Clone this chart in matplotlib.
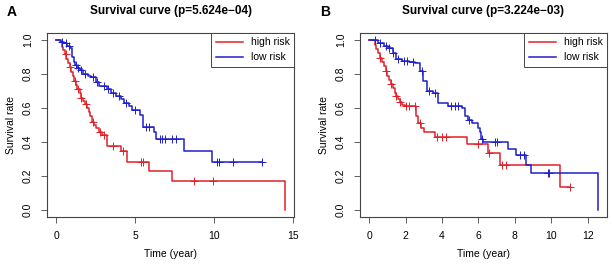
import numpy as np
import matplotlib
matplotlib.use("Agg")
import matplotlib.pyplot as plt

plt.rcParams["font.family"] = ["Liberation Sans", "DejaVu Sans"]

RED = "#e0202a"
BLUE = "#1f1fcc"

# panel A - step points (time, survival after the step)
a_high_t = [0, 0.25, 0.35, 0.45, 0.55, 0.65, 0.75, 0.85, 0.95, 1.05, 1.15, 1.25, 1.35, 1.5, 1.6,
            1.7, 1.82, 1.95, 2.05, 2.15, 2.25, 2.4, 2.55, 2.7, 2.9, 3.2, 4.1, 4.5, 5.85, 7.34, 14.47]
a_high_s = [1.0, 0.985, 0.96, 0.94, 0.915, 0.89, 0.865, 0.84, 0.81, 0.785, 0.76, 0.735, 0.71, 0.685, 0.66,
            0.64, 0.625, 0.60, 0.575, 0.55, 0.52, 0.50, 0.48, 0.46, 0.44, 0.378, 0.35, 0.285, 0.228, 0.17, 0.0]
a_high_end = 14.47
a_high_cens = [0.6, 0.9, 1.2, 1.4, 1.6, 1.9, 2.3, 2.8, 3.0, 3.6, 4.2, 5.35, 5.5, 8.7, 9.9]

a_low_t = [0, 0.3, 0.5, 0.7, 0.9, 1.0, 1.1, 1.2, 1.35, 1.5, 1.7, 2.0, 2.2, 2.5, 2.7, 3.2, 3.5, 3.8,
           4.1, 4.3, 4.6, 4.8, 5.3, 5.5, 6.2, 6.33, 8.1, 9.85]
a_low_s = [1.0, 0.99, 0.98, 0.965, 0.95, 0.9, 0.87, 0.85, 0.835, 0.82, 0.8, 0.79, 0.78, 0.75, 0.727, 0.71,
           0.69, 0.67, 0.65, 0.63, 0.61, 0.59, 0.56, 0.49, 0.456, 0.42, 0.35, 0.28]
a_low_end = 13.0
a_low_cens = [0.4, 0.6, 0.8, 1.25, 1.4, 1.6, 1.8, 2.3, 2.6, 3.0, 3.3, 3.6, 4.0, 4.4, 5.0, 5.7, 5.9,
              6.6, 6.7, 6.9, 7.3, 7.6, 10.2, 10.3, 11.2, 13.0]

# panel B
b_high_t = [0, 0.3, 0.4, 0.5, 0.6, 0.7, 0.8, 0.9, 1.0, 1.1, 1.2, 1.3, 1.4, 1.5, 1.6, 1.7, 1.8, 1.95,
            2.6, 2.7, 2.85, 3.0, 3.6, 5.35, 6.54, 7.18, 10.5]
b_high_s = [1.0, 0.97, 0.945, 0.92, 0.895, 0.87, 0.845, 0.815, 0.79, 0.765, 0.74, 0.715, 0.69, 0.67,
            0.65, 0.635, 0.62, 0.61, 0.55, 0.51, 0.48, 0.456, 0.427, 0.388, 0.335, 0.267, 0.139]
b_high_end = 11.05
b_high_cens = [0.6, 0.9, 1.2, 1.5, 1.7, 2.0, 2.2, 2.5, 2.8, 3.7, 4.0, 4.2, 6.0, 6.6, 7.3, 7.5, 11.05]

b_low_t = [0, 0.5, 0.8, 1.06, 1.3, 1.5, 1.79, 2.2, 2.52, 2.8, 2.98, 3.16, 3.52, 3.8, 4.35, 5.08, 5.26,
           5.45, 5.63, 5.99, 6.08, 6.17, 6.26, 7.64, 8.04, 8.64, 8.9, 12.56]
b_low_s = [1.0, 0.98, 0.965, 0.95, 0.92, 0.89, 0.873, 0.87, 0.864, 0.815, 0.756, 0.698, 0.688, 0.63,
           0.61, 0.60, 0.55, 0.53, 0.51, 0.48, 0.456, 0.417, 0.40, 0.362, 0.323, 0.267, 0.216, 0.0]
b_low_end = 12.56
b_low_cens = [0.3, 0.6, 0.9, 1.1, 1.3, 1.6, 1.9, 2.1, 2.4, 2.9, 3.3, 3.6, 4.5, 4.7, 4.9, 5.5, 6.2,
              6.9, 7.0, 8.3, 8.5, 9.8, 9.9]

panels = [
    ("A", "Survival curve (p=5.624e\u221204)", [0, 5, 10, 15],
     (a_high_t, a_high_s, a_high_end, a_high_cens), (a_low_t, a_low_s, a_low_end, a_low_cens)),
    ("B", "Survival curve (p=3.224e\u221203)", [0, 2, 4, 6, 8, 10, 12],
     (b_high_t, b_high_s, b_high_end, b_high_cens), (b_low_t, b_low_s, b_low_end, b_low_cens)),
]


def km(ax, t, s, end, cens, color, label):
    t = np.append(t, end)
    s = np.append(s, s[-1])
    ax.step(t, s, where="post", color=color, lw=1.1, label=label)
    idx = np.searchsorted(t[:-1], cens, side="right") - 1
    ax.plot(cens, s[idx], ls="none", marker="+", ms=6, mew=0.7, color=color)


fig = plt.figure(figsize=(6.12, 2.66), dpi=100)
lefts = [47 / 612, 360 / 612]
for (tag, title, xt, high, low), left in zip(panels, lefts):
    ax = fig.add_axes([left, 1 - 217 / 266, 247 / 612, 184 / 266])
    km(ax, *high, RED, "high risk")
    km(ax, *low, BLUE, "low risk")
    xmax = max(high[2], low[2])
    ax.set_xlim(-0.04 * xmax, xmax * 1.04)
    ax.set_ylim(-0.04, 1.04)
    ax.set_xticks(xt)
    ax.set_yticks([0, 0.2, 0.4, 0.6, 0.8, 1.0])
    ax.set_yticklabels(["0.0", "0.2", "0.4", "0.6", "0.8", "1.0"], rotation=90, va="center")
    ax.tick_params(labelsize=7.5, length=4, width=0.6, color="#444444", pad=6)
    for sp in ax.spines.values():
        sp.set_linewidth(0.8)
        sp.set_color("#444444")
    ax.set_xlabel("Time (year)", fontsize=7.5, labelpad=6)
    ax.set_ylabel("Survival rate", fontsize=7.5, labelpad=5)
    ax.set_title(title, fontsize=8.5, fontweight="bold", pad=14)
    leg = ax.legend(loc="upper right", fontsize=7.5, fancybox=False, borderaxespad=0,
                    handlelength=2.6, framealpha=1, edgecolor="#444444")
    leg.get_frame().set_linewidth(0.7)
    fig.text(left - 40 / 612, 1 - 12 / 266, tag, fontsize=10, fontweight="bold", va="center")

fig.savefig("out.png", dpi=100)
